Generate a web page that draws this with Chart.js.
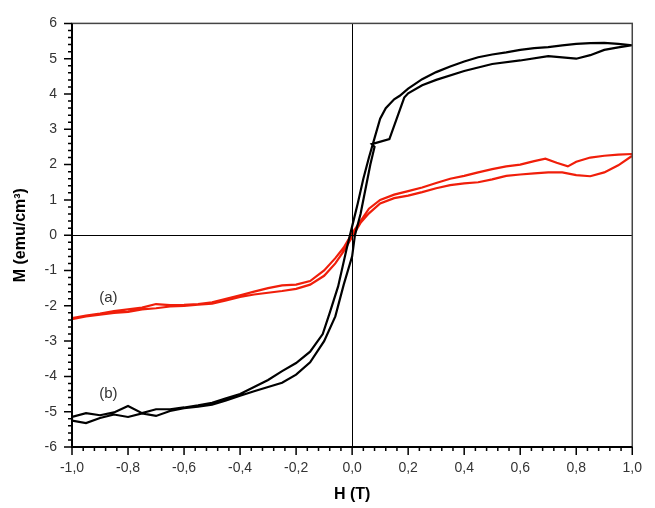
<!DOCTYPE html>
<html>
<head>
<meta charset="utf-8">
<script src="https://cdn.jsdelivr.net/npm/chart.js@4.4.1/dist/chart.umd.min.js"></script>
<style>
  html, body { margin: 0; padding: 0; background: #fff; }
  #wrap { width: 655px; height: 508px; }
</style>
</head>
<body>
<div id="wrap"><canvas id="chart" width="655" height="508"></canvas></div>
<script>
// sample (b), descending branch (from +1 T to -1 T)
const bDownH = [1.0, 0.95, 0.9, 0.85, 0.8, 0.75, 0.7, 0.65, 0.6, 0.55, 0.5, 0.45, 0.4, 0.35, 0.3, 0.25, 0.2, 0.17, 0.15, 0.12, 0.1, 0.08, 0.06, 0.04, 0.02, 0.0, -0.02, -0.05, -0.08, -0.105, -0.15, -0.2, -0.25, -0.3, -0.35, -0.4, -0.45, -0.5, -0.55, -0.6, -0.65, -0.7, -0.75, -0.8, -0.85, -0.9, -0.95, -1.0];
const bDownM = [5.38, 5.42, 5.45, 5.44, 5.42, 5.38, 5.33, 5.3, 5.25, 5.18, 5.12, 5.04, 4.92, 4.78, 4.62, 4.42, 4.15, 3.95, 3.85, 3.6, 3.3, 2.75, 2.2, 1.6, 0.9, 0.25, -0.4, -1.45, -2.2, -2.8, -3.3, -3.62, -3.85, -4.1, -4.3, -4.5, -4.62, -4.75, -4.82, -4.88, -4.93, -4.93, -5.04, -4.84, -5.02, -5.1, -5.04, -5.15];
// sample (b), ascending branch (from -1 T to +1 T)
const bUpH = [-1.0, -0.95, -0.9, -0.85, -0.8, -0.75, -0.7, -0.65, -0.6, -0.55, -0.5, -0.45, -0.4, -0.35, -0.3, -0.25, -0.2, -0.15, -0.1, -0.06, -0.03, 0.0, 0.01, 0.03, 0.05, 0.065, 0.08, 0.07, 0.133, 0.186, 0.2, 0.25, 0.3, 0.4, 0.5, 0.6, 0.7, 0.75, 0.8, 0.85, 0.9, 0.95, 1.0];
const bUpM = [-5.25, -5.32, -5.18, -5.08, -5.15, -5.05, -5.12, -4.98, -4.9, -4.86, -4.8, -4.68, -4.55, -4.42, -4.3, -4.18, -3.95, -3.6, -3.0, -2.3, -1.4, -0.6, 0.0, 0.6, 1.4, 2.0, 2.5, 2.58, 2.72, 3.9, 4.02, 4.25, 4.4, 4.65, 4.85, 4.95, 5.07, 5.04, 5.0, 5.1, 5.25, 5.32, 5.38];

// sample (a), descending branch
const aDownH = [1.0, 0.95, 0.9, 0.85, 0.8, 0.77, 0.73, 0.69, 0.65, 0.6, 0.55, 0.5, 0.45, 0.4, 0.35, 0.3, 0.25, 0.2, 0.15, 0.1, 0.06, 0.03, 0.0, -0.03, -0.06, -0.1, -0.15, -0.2, -0.25, -0.3, -0.35, -0.4, -0.45, -0.5, -0.55, -0.6, -0.65, -0.7, -0.75, -0.8, -0.85, -0.9, -0.95, -1.0];
const aDownM = [2.3, 2.28, 2.25, 2.2, 2.08, 1.95, 2.05, 2.17, 2.1, 2.0, 1.95, 1.87, 1.78, 1.68, 1.6, 1.48, 1.35, 1.25, 1.15, 1.0, 0.75, 0.4, 0.05, -0.35, -0.65, -1.0, -1.3, -1.4, -1.42, -1.5, -1.6, -1.7, -1.8, -1.9, -1.95, -1.97, -1.98, -1.95, -2.05, -2.1, -2.15, -2.22, -2.28, -2.35];
// sample (a), ascending branch
const aUpH = [-1.0, -0.95, -0.9, -0.85, -0.8, -0.75, -0.7, -0.65, -0.6, -0.55, -0.5, -0.45, -0.4, -0.35, -0.3, -0.25, -0.2, -0.15, -0.1, -0.06, -0.03, 0.0, 0.03, 0.06, 0.1, 0.15, 0.2, 0.25, 0.3, 0.35, 0.4, 0.45, 0.5, 0.55, 0.6, 0.65, 0.7, 0.75, 0.8, 0.85, 0.9, 0.95, 1.0];
const aUpM = [-2.38, -2.3, -2.25, -2.2, -2.17, -2.1, -2.07, -2.02, -2.0, -1.97, -1.94, -1.85, -1.75, -1.68, -1.63, -1.58, -1.52, -1.4, -1.15, -0.8, -0.45, -0.05, 0.35, 0.62, 0.9, 1.05, 1.12, 1.22, 1.33, 1.42, 1.47, 1.5, 1.58, 1.68, 1.72, 1.75, 1.78, 1.78, 1.7, 1.67, 1.78, 1.98, 2.25];

const curveLabels = [
  { text: "(a)", h: -0.87, m: -1.78 },
  { text: "(b)", h: -0.87, m: -4.5 },
];

const H_MIN = -1, H_MAX = 1, M_MIN = -6, M_MAX = 6;

const toPoints = (hs, ms) => hs.map((h, i) => ({ x: h, y: ms[i] }));
const loop = (downH, downM, upH, upM) =>
  toPoints(downH, downM).concat(toPoints(upH, upM));

const FONT = "'Liberation Sans', Arial, sans-serif";

// frame, zero lines, ticks and curve labels
const decorPlugin = {
  id: "decor",
  afterDraw(chart) {
    const { ctx, chartArea: a, scales: { x, y } } = chart;
    ctx.save();
    ctx.strokeStyle = "#000";
    ctx.lineWidth = 1;
    // zero lines
    const x0 = Math.round(x.getPixelForValue(0)) + 0.5;
    const y0 = Math.round(y.getPixelForValue(0)) + 0.5;
    ctx.beginPath();
    ctx.moveTo(x0, a.top); ctx.lineTo(x0, a.bottom);
    ctx.moveTo(a.left, y0); ctx.lineTo(a.right, y0);
    ctx.stroke();
    // frame
    ctx.strokeStyle = "#444";
    ctx.lineWidth = 1.5;
    ctx.strokeRect(a.left, a.top, a.right - a.left, a.bottom - a.top);
    ctx.strokeStyle = "#000";
    ctx.lineWidth = 2;
    ctx.beginPath();
    ctx.moveTo(a.left, a.top); ctx.lineTo(a.left, a.bottom); ctx.lineTo(a.right, a.bottom);
    ctx.stroke();
    // ticks
    ctx.lineWidth = 1.5;
    ctx.beginPath();
    for (let i = 0; i <= 60; i++) {
      const v = M_MIN + i * 0.2;
      const py = y.getPixelForValue(v);
      const len = i % 5 === 0 ? 8 : 4;
      ctx.moveTo(a.left - len, py); ctx.lineTo(a.left, py);
    }
    for (let i = 0; i <= 50; i++) {
      const v = H_MIN + i * 0.04;
      const px = x.getPixelForValue(v);
      const len = i % 5 === 0 ? 8 : 4;
      ctx.moveTo(px, a.bottom); ctx.lineTo(px, a.bottom + len);
    }
    ctx.stroke();
    // curve labels
    ctx.fillStyle = "#333";
    ctx.font = "15px " + FONT;
    ctx.textAlign = "center";
    ctx.textBaseline = "middle";
    curveLabels.forEach((l) => {
      ctx.fillText(l.text, x.getPixelForValue(l.h), y.getPixelForValue(l.m));
    });
    ctx.restore();
  },
};

new Chart(document.getElementById("chart"), {
  type: "scatter",
  data: {
    datasets: [
      {
        label: "(b)",
        data: loop(bDownH, bDownM, bUpH, bUpM),
        showLine: true,
        borderColor: "#000",
        borderWidth: 2.2,
        pointRadius: 0,
        tension: 0,
      },
      {
        label: "(a)",
        data: loop(aDownH, aDownM, aUpH, aUpM),
        showLine: true,
        borderColor: "rgb(240, 30, 10)",
        borderWidth: 2.2,
        pointRadius: 0,
        tension: 0,
      },
    ],
  },
  options: {
    responsive: false,
    animation: false,
    layout: { padding: { top: 22, right: 13, left: 0, bottom: 0 } },
    plugins: {
      legend: { display: false },
      tooltip: { enabled: false },
    },
    scales: {
      x: {
        type: "linear",
        min: H_MIN,
        max: H_MAX,
        grid: { display: false, drawTicks: false },
        border: { display: false },
        ticks: {
          stepSize: 0.2,
          padding: 13,
          color: "#333",
          font: { family: FONT, size: 14 },
          maxRotation: 0,
          callback: (v) => (Math.round(v * 10) / 10).toFixed(1).replace(".", ","),
        },
        title: {
          display: true,
          text: "H (T)",
          color: "#000",
          font: { family: FONT, size: 16, weight: "bold" },
          padding: { top: 6 },
        },
        afterFit: (s) => { s.height = 61; },
      },
      y: {
        type: "linear",
        min: M_MIN,
        max: M_MAX,
        grid: { display: false, drawTicks: false },
        border: { display: false },
        ticks: {
          stepSize: 1,
          padding: 15,
          color: "#333",
          font: { family: FONT, size: 14 },
          callback: (v) => String(Math.round(v)),
        },
        title: {
          display: true,
          text: "M (emu/cm³)",
          color: "#000",
          font: { family: FONT, size: 16, weight: "bold" },
          padding: { bottom: 0, top: 11 },
        },
        afterFit: (s) => { s.width = 72; },
      },
    },
  },
  plugins: [decorPlugin],
});
</script>
</body>
</html>
